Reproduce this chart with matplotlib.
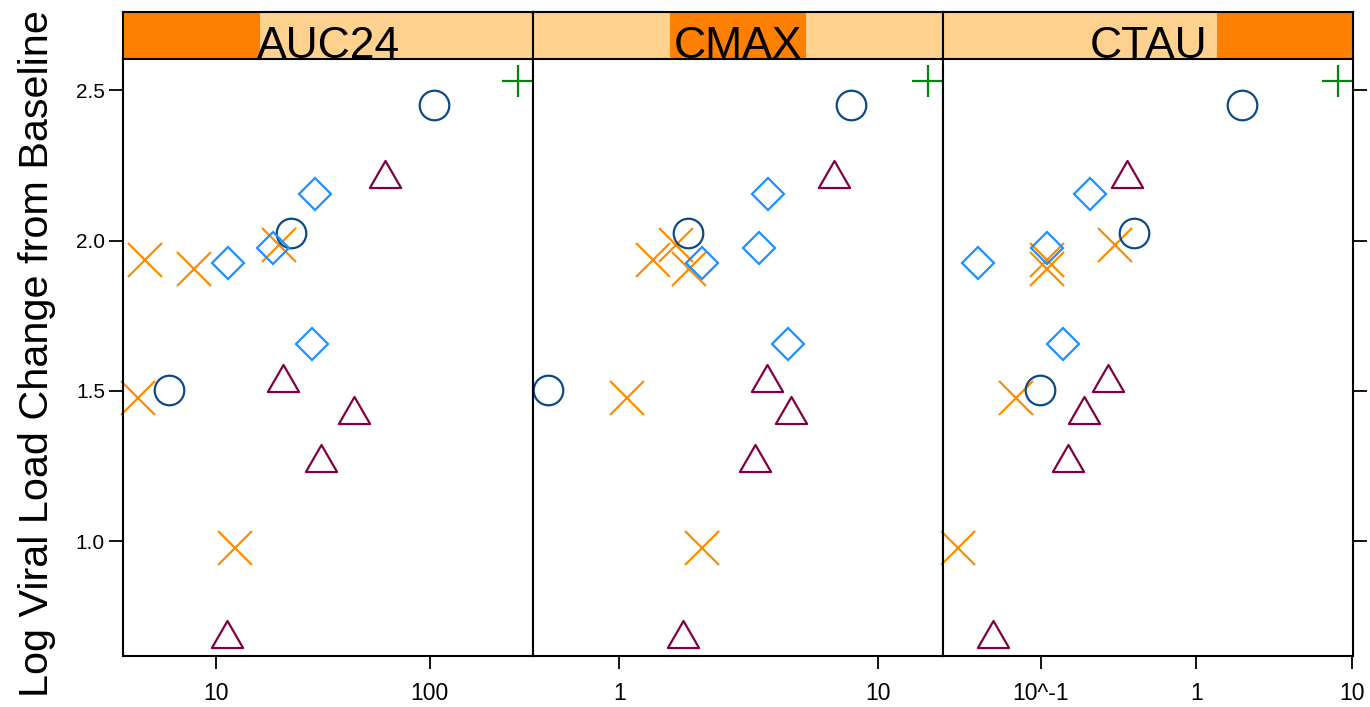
import numpy as np
import matplotlib
matplotlib.use("Agg")
import matplotlib.pyplot as plt
from matplotlib.path import Path
from matplotlib.patches import Rectangle

plt.rcParams["font.family"] = ["Liberation Sans", "DejaVu Sans"]

# Panel order and the exposure metric shown in each
metrics = ["AUC24", "CMAX", "CTAU"]

# Log viral load change from baseline, one array per symbol group
cross_vl = [1.935, 1.905, 1.985, 1.476, 0.977]
circle_vl = [2.024, 2.451, 1.503]
diamond_vl = [1.927, 1.976, 2.156, 1.656]
triangle_vl = [2.221, 1.542, 1.438, 1.278, 0.692]
plus_vl = [2.532]

# Exposure values per group (AUC24)
cross_auc24 = [4.67, 7.91, 19.8, 4.33, 12.26]
circle_auc24 = [22.4, 104.2, 6.06]
diamond_auc24 = [11.37, 18.4, 29.2, 28.3]
triangle_auc24 = [62.1, 20.6, 44.1, 30.9, 11.33]
plus_auc24 = [258.6]

# Exposure values per group (CMAX)
cross_cmax = [1.342, 1.861, 1.653, 1.065, 2.089]
circle_cmax = [1.839, 7.885, 0.5306]
diamond_cmax = [2.089, 3.478, 3.769, 4.479]
triangle_cmax = [6.761, 3.725, 4.624, 3.357, 1.753]
plus_cmax = [15.6]

# Exposure values per group (CTAU)
cross_ctau = [0.1093, 0.1093, 0.3003, 0.06913, 0.02965]
circle_ctau = [0.3976, 1.979, 0.0991]
diamond_ctau = [0.03964, 0.1093, 0.2085, 0.1392]
triangle_ctau = [0.3585, 0.2692, 0.1888, 0.149, 0.04971]
plus_ctau = [8.145]

# x tick values and labels for each panel
x_ticks = {
    "AUC24": [10, 100],
    "CMAX": [1, 10],
    "CTAU": [0.1, 1, 10],
}
x_tick_labels = {
    "AUC24": ["10", "100"],
    "CMAX": ["1", "10"],
    "CTAU": ["10^-1", "1", "10"],
}
y_ticks = [1.0, 1.5, 2.0, 2.5]

# R-style open triangle (equilateral, centred on its bounding box)
tri_marker = Path([(0, 0.866), (-1, -0.866), (1, -0.866), (0, 0.866)],
                  [Path.MOVETO, Path.LINETO, Path.LINETO, Path.CLOSEPOLY])

groups = [
    dict(vl=cross_vl, AUC24=cross_auc24, CMAX=cross_cmax, CTAU=cross_ctau,
         marker="x", color="#FF8C00", ms=24.0),
    dict(vl=circle_vl, AUC24=circle_auc24, CMAX=circle_cmax, CTAU=circle_ctau,
         marker="o", color="#0B4A87", ms=21.3),
    dict(vl=diamond_vl, AUC24=diamond_auc24, CMAX=diamond_cmax, CTAU=diamond_ctau,
         marker="D", color="#1E8FFF", ms=15.8),
    dict(vl=triangle_vl, AUC24=triangle_auc24, CMAX=triangle_cmax, CTAU=triangle_ctau,
         marker=tri_marker, color="#800045", ms=22.5),
    dict(vl=plus_vl, AUC24=plus_auc24, CMAX=plus_cmax, CTAU=plus_ctau,
         marker="+", color="#00870A", ms=23.0),
]

strip_light = "#FFD18F"
strip_dark = "#FF7F00"


def padded(lo, hi, frac=0.04):
    r = hi - lo
    return lo - frac * r, hi + frac * r


W, H = 1370, 707
fig = plt.figure(figsize=(W / 100, H / 100), dpi=100)

px_left, px_right = 123, 1353.3
px_top, px_bottom = 58.5, 656
px_strip_top = 12.3
panel_w = (px_right - px_left) / 3

all_vl = np.concatenate([g["vl"] for g in groups])
ylo, yhi = padded(all_vl.min(), all_vl.max())

for i, m in enumerate(metrics):
    x0 = px_left + i * panel_w
    ax = fig.add_axes([x0 / W, 1 - px_bottom / H, panel_w / W,
                       (px_bottom - px_top) / H])
    for g in groups:
        ax.plot(g[m], g["vl"], linestyle="none", marker=g["marker"],
                ms=g["ms"], mfc="none", mec=g["color"], mew=1.6,
                clip_on=False)
    ax.set_xscale("log")
    lx = np.log10(np.concatenate([g[m] for g in groups]))
    a, b = padded(lx.min(), lx.max())
    ax.set_xlim(10 ** a, 10 ** b)
    ax.set_ylim(ylo, yhi)

    ax.xaxis.set_minor_locator(matplotlib.ticker.NullLocator())
    ax.set_xticks(x_ticks[m])
    ax.set_xticklabels(x_tick_labels[m], fontsize=16.5)
    ax.tick_params(axis="x", direction="out", length=9, width=1.3, pad=10)
    ax.set_yticks(y_ticks)
    if i == 0:
        ax.set_yticklabels([f"{v:.1f}" for v in y_ticks], fontsize=15)
        ax.tick_params(axis="y", direction="out", length=10, width=1.3,
                       pad=3, left=True, right=False)
    elif i == 2:
        ax.yaxis.set_ticks_position("right")
        ax.tick_params(axis="y", direction="out", length=10, width=1.3,
                       labelright=False, right=True, left=False)
    else:
        ax.tick_params(axis="y", left=False, right=False, labelleft=False)
    for s in ax.spines.values():
        s.set_linewidth(1.5)

    # strip with the level indicator
    sax = fig.add_axes([x0 / W, 1 - px_top / H, panel_w / W,
                        (px_top - px_strip_top) / H])
    sax.set_xlim(0, 1)
    sax.set_ylim(0, 1)
    sax.add_patch(Rectangle((0, 0), 1, 1, facecolor=strip_light,
                            edgecolor="none"))
    sax.add_patch(Rectangle((i / 3, 0), 1 / 3, 1, facecolor=strip_dark,
                            edgecolor="none"))
    sax.text(0.5, 0.0, m, ha="center", va="baseline", fontsize=32,
             color="black")
    sax.set_xticks([])
    sax.set_yticks([])
    for s in sax.spines.values():
        s.set_linewidth(1.5)

fig.text(37 / W, 1 - 354 / H, "Log Viral Load Change from Baseline",
         rotation=90, ha="center", va="center", fontsize=29.8)

fig.savefig("out.png", dpi=100)
